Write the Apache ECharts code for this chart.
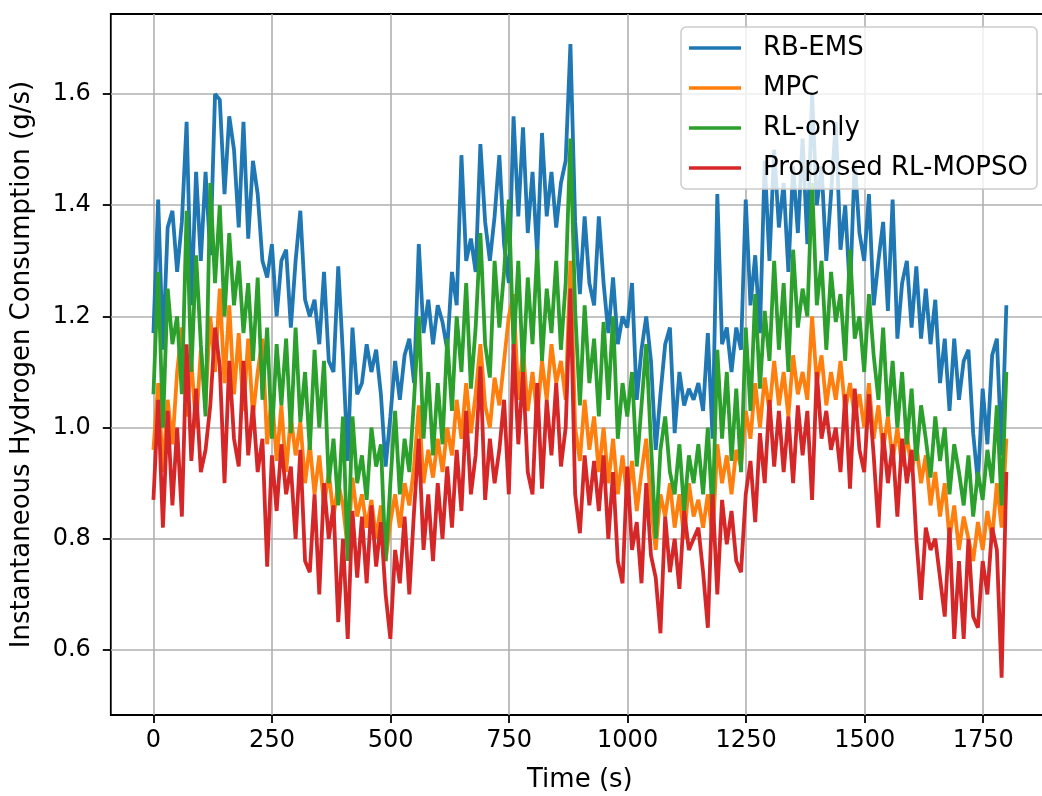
<!DOCTYPE html>
<html>
<head>
  <meta charset="UTF-8">
  <title>Instantaneous Hydrogen Consumption</title>
  <script src="https://cdn.jsdelivr.net/npm/echarts@6/dist/echarts.min.js"></script>
  <style>
    body { margin: 0; background: #fff; }
    #main { width: 1042px; height: 796px; }
  </style>
</head>
<body>
  <div id="main"></div>
  <script>
    // samples every 10 s, 0..1800 s
    const timeStep = 10;
    const seriesNames = ['RB-EMS', 'MPC', 'RL-only', 'Proposed RL-MOPSO'];
    const colors = ['#1f77b4', '#ff7f0e', '#2ca02c', '#d62728'];
    const xTicks = [0, 250, 500, 750, 1000, 1250, 1500, 1750];

    const rbEms = [
      1.17,1.41,1.14,1.36,1.39,1.28,1.37,1.55,1.22,1.46,
      1.30,1.46,1.31,1.60,1.59,1.42,1.56,1.50,1.36,1.55,
      1.34,1.48,1.42,1.30,1.27,1.33,1.20,1.30,1.32,1.18,
      1.30,1.39,1.23,1.20,1.23,1.15,1.28,1.12,1.10,1.29,
      1.13,0.94,1.18,1.06,1.08,1.15,1.10,1.14,1.06,0.93,
      1.02,1.12,1.05,1.13,1.16,1.08,1.33,1.17,1.23,1.15,
      1.22,1.19,1.14,1.28,1.22,1.49,1.30,1.34,1.28,1.51,
      1.37,1.30,1.38,1.49,1.33,1.26,1.56,1.38,1.54,1.35,
      1.46,1.31,1.53,1.38,1.46,1.36,1.44,1.48,1.69,1.37,
      1.24,1.38,1.26,1.22,1.38,1.26,1.17,1.27,1.15,1.20,
      1.18,1.26,1.05,1.14,1.20,1.12,0.96,1.06,1.15,1.18,
      0.99,1.10,1.04,1.07,1.05,1.08,1.03,1.17,0.98,1.42,
      1.15,1.18,1.10,1.18,1.14,1.41,1.22,1.31,1.17,1.48,
      1.30,1.50,1.36,1.44,1.28,1.47,1.35,1.52,1.33,1.60,
      1.40,1.47,1.30,1.42,1.55,1.32,1.40,1.24,1.48,1.35,
      1.30,1.42,1.22,1.30,1.37,1.21,1.41,1.16,1.26,1.30,
      1.18,1.29,1.16,1.25,1.15,1.23,1.08,1.16,1.03,1.16,
      1.05,1.12,1.14,0.99,0.90,1.07,0.97,1.13,1.16,0.95,
      1.22
    ];

    const mpc = [
      0.96,1.08,0.92,1.05,0.97,1.10,1.18,1.02,1.12,1.00,
      1.14,1.05,1.20,1.10,1.25,1.08,1.22,1.06,1.17,1.03,
      1.16,1.02,1.10,1.16,0.97,1.06,0.94,1.04,0.92,1.02,
      0.95,1.01,0.90,0.97,0.88,0.95,0.86,0.92,0.84,0.90,
      0.86,0.78,0.91,0.84,0.88,0.82,0.87,0.80,0.86,0.76,
      0.83,0.88,0.82,0.90,0.86,0.93,1.04,0.90,0.96,0.91,
      0.98,0.92,1.00,0.95,1.05,0.98,1.08,0.99,1.06,1.15,
      1.04,1.00,1.09,1.04,1.12,1.20,1.24,1.05,1.14,1.03,
      1.10,1.02,1.12,1.05,1.15,1.08,1.12,1.05,1.30,1.00,
      0.94,1.05,0.96,1.02,0.92,1.00,0.90,0.98,0.88,0.95,
      0.87,0.94,0.85,0.92,0.98,0.86,0.78,0.88,0.84,0.90,
      0.82,0.88,0.80,0.90,0.84,0.87,0.82,0.88,0.80,0.97,
      0.90,0.95,0.88,0.96,0.93,1.03,0.98,1.08,1.00,1.09,
      1.03,1.12,1.04,1.10,1.02,1.13,1.06,1.10,1.05,1.20,
      1.08,1.13,1.04,1.10,1.05,1.12,1.03,1.08,1.02,1.06,
      1.00,1.08,0.98,1.04,0.96,1.02,0.94,1.00,0.93,0.99,
      0.92,0.97,0.90,0.95,0.86,0.92,0.84,0.90,0.80,0.86,
      0.78,0.84,0.80,0.76,0.83,0.78,0.85,0.80,0.90,0.82,
      0.98
    ];

    const rlOnly = [
      1.06,1.28,1.00,1.25,1.15,1.20,1.06,1.39,1.10,1.31,
      1.15,1.02,1.44,1.26,1.40,1.20,1.35,1.22,1.30,1.17,
      1.26,1.12,1.27,1.05,1.18,0.98,1.15,1.04,1.16,0.99,
      1.18,1.01,1.10,0.96,1.14,1.00,1.12,0.90,0.98,0.86,
      1.02,0.76,1.02,0.90,0.95,0.87,1.00,0.93,0.97,0.76,
      0.90,1.03,0.88,0.98,0.92,1.05,1.20,0.98,1.10,0.95,
      1.08,0.97,1.16,1.03,1.20,1.10,1.26,1.07,1.18,1.35,
      1.15,1.09,1.30,1.18,1.28,1.41,1.14,1.30,1.10,1.27,
      1.15,1.32,1.12,1.25,1.17,1.30,1.14,1.26,1.52,1.21,
      1.04,1.22,1.08,1.16,1.02,1.19,1.05,1.20,0.98,1.08,
      1.02,1.10,0.93,1.04,1.15,0.97,0.80,0.96,1.02,0.92,
      0.88,0.97,0.85,0.95,0.90,0.97,0.88,1.00,0.84,1.14,
      0.98,1.10,0.94,1.07,0.92,1.18,1.03,1.24,1.07,1.21,
      1.12,1.30,1.14,1.26,1.10,1.32,1.18,1.25,1.20,1.44,
      1.22,1.30,1.14,1.28,1.19,1.24,1.12,1.32,1.16,1.20,
      1.10,1.24,1.13,1.05,1.18,1.02,1.12,1.00,1.10,0.97,
      1.07,0.94,1.04,0.98,0.91,1.02,0.94,1.00,0.88,0.97,
      0.92,0.86,0.95,0.84,0.92,0.87,0.96,0.90,1.04,0.86,
      1.10
    ];

    const proposed = [
      0.87,1.05,0.82,1.03,0.86,1.00,0.84,1.15,0.94,1.07,
      0.92,0.96,1.04,1.18,1.11,0.90,1.12,0.98,0.93,1.12,
      0.95,1.04,0.92,0.98,0.75,0.95,0.85,0.97,0.88,0.93,
      0.80,0.96,0.76,0.74,0.88,0.70,0.90,0.80,0.86,0.65,
      0.80,0.62,0.85,0.73,0.84,0.72,0.86,0.75,0.83,0.70,
      0.62,0.78,0.72,0.84,0.70,0.85,0.98,0.78,0.88,0.76,
      0.90,0.80,0.93,0.82,0.96,0.85,1.03,0.88,0.95,1.11,
      0.87,0.98,0.90,0.96,1.05,0.88,1.15,0.97,1.10,0.92,
      0.88,1.08,0.89,1.05,0.95,1.08,0.93,1.00,1.25,0.88,
      0.81,0.95,0.86,0.94,0.85,0.95,0.80,0.92,0.76,0.72,
      0.93,0.78,0.83,0.72,0.90,0.77,0.73,0.63,0.84,0.74,
      0.80,0.71,0.85,0.78,0.80,0.82,0.74,0.64,0.88,0.70,
      0.87,0.79,0.85,0.76,0.74,0.88,0.94,0.83,0.99,0.90,
      1.05,0.93,1.03,0.92,1.02,0.90,1.04,0.95,1.03,0.87,
      1.10,0.98,1.03,0.96,1.00,0.92,1.06,0.89,1.07,0.96,
      0.92,1.06,0.95,0.82,0.99,0.90,0.97,0.84,0.98,0.90,
      0.96,0.80,0.69,0.82,0.78,0.80,0.73,0.66,0.82,0.62,
      0.76,0.62,0.80,0.66,0.64,0.76,0.70,0.82,0.78,0.55,
      0.92
    ];

    const allValues = [rbEms, mpc, rlOnly, proposed];

    function toPoints(values) {
      return values.map((v, i) => [i * timeStep, v]);
    }

    const font = 'DejaVu Sans';
    const gridColor = '#b0b0b0';

    const chart = echarts.init(document.getElementById('main'), null, { renderer: 'canvas' });

    const option = {
      animation: false,
      backgroundColor: '#ffffff',
      grid: [
        // 0: data area + frame (right edge falls just outside the picture)
        { left: 110.8, width: 938.2, top: 14, bottom: 81, show: true, outerBoundsMode: 'none',
          borderColor: '#000', borderWidth: 1.8, backgroundColor: 'transparent' },
        // 1: x ticks, 0..1750
        { left: 153.5, width: 829.7, top: 14, bottom: 81, outerBoundsMode: 'none' },
        // 2: y ticks, 0.6..1.6
        { left: 110.8, width: 938.2, top: 94, bottom: 146, outerBoundsMode: 'none' }
      ],
      xAxis: [
        { gridIndex: 0, type: 'value', min: -90, max: 1890,
          axisLine: { show: false }, axisTick: { show: false },
          axisLabel: { show: false }, splitLine: { show: false },
          name: 'Time (s)', nameLocation: 'middle', nameGap: 52,
          nameTextStyle: { fontFamily: font, fontSize: 26, color: '#000' } },
        { gridIndex: 1, type: 'value', min: 0, max: 1750, interval: 250,
          axisLine: { show: false },
          axisTick: { show: true, length: 8, lineStyle: { color: '#000', width: 1.8 } },
          axisLabel: { fontFamily: font, fontSize: 24, color: '#000', margin: 14,
            customValues: xTicks, formatter: v => String(v) },
          splitLine: { show: true, lineStyle: { color: gridColor, width: 1.6 } } },
        { gridIndex: 2, type: 'value', min: 0, max: 1, show: false }
      ],
      yAxis: [
        { gridIndex: 0, type: 'value', min: 0.483, max: 1.744,
          axisLine: { show: false }, axisTick: { show: false },
          axisLabel: { show: false }, splitLine: { show: false },
          name: 'Instantaneous Hydrogen Consumption (g/s)', nameLocation: 'middle', nameGap: 76,
          nameTextStyle: { fontFamily: font, fontSize: 26, color: '#000' } },
        { gridIndex: 1, type: 'value', min: 0, max: 1, show: false },
        { gridIndex: 2, type: 'value', min: 0.6, max: 1.6, interval: 0.2,
          axisLine: { show: false },
          axisTick: { show: true, length: 8, lineStyle: { color: '#000', width: 1.8 } },
          axisLabel: { fontFamily: font, fontSize: 24, color: '#000', margin: 20,
            formatter: v => v.toFixed(1) },
          splitLine: { show: true, lineStyle: { color: gridColor, width: 1.6 } } }
      ],
      legend: {
        right: 5,
        top: 27,
        orient: 'vertical',
        icon: 'rect',
        itemWidth: 52,
        itemHeight: 3.5,
        itemGap: 14,
        padding: [8, 9, 8, 8],
        backgroundColor: 'rgba(255,255,255,0.8)',
        borderColor: '#cccccc',
        borderWidth: 1.5,
        borderRadius: 5,
        textStyle: { fontFamily: font, fontSize: 26, color: '#000', lineHeight: 26,
          padding: [0, 0, 0, 17] },
        data: seriesNames
      },
      series: seriesNames.map((name, k) => ({
        name: name,
        type: 'line',
        xAxisIndex: 0,
        yAxisIndex: 0,
        symbol: 'none',
        color: colors[k],
        lineStyle: { width: 3.8, color: colors[k] },
        data: toPoints(allValues[k])
      }))
    };

    chart.setOption(option);
  </script>
</body>
</html>
